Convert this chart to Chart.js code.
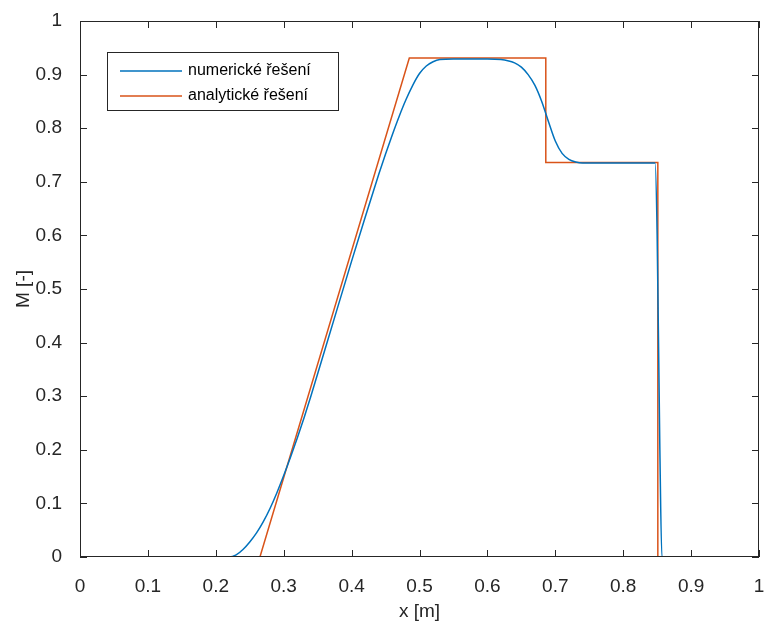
<!DOCTYPE html>
<html>
<head>
<meta charset="utf-8">
<script src="https://cdn.jsdelivr.net/npm/chart.js@4.4.1/dist/chart.umd.min.js"></script>
<style>
  html, body { margin: 0; padding: 0; background: #fff; }
  #wrap { width: 769px; height: 626px; }
</style>
</head>
<body>
<div id="wrap"><canvas id="graf"></canvas></div>
<script>
// numerické řešení
const xNum = [0, 0.1, 0.22, 0.23, 0.24, 0.25, 0.26, 0.27, 0.28, 0.29, 0.30, 0.31, 0.32, 0.33, 0.34,
  0.36, 0.38, 0.40, 0.42, 0.44, 0.45, 0.46, 0.47, 0.48, 0.49, 0.50, 0.51, 0.52, 0.53, 0.55,
  0.60, 0.62, 0.63, 0.64, 0.65, 0.66, 0.67, 0.68, 0.69, 0.70, 0.71, 0.72, 0.73, 0.74, 0.80,
  0.847, 0.850, 0.854, 0.857, 0.9, 1];
const yNum = [0, 0, 0, 0.004, 0.014, 0.028, 0.045, 0.066, 0.091, 0.12, 0.152, 0.186, 0.222, 0.260, 0.300,
  0.384, 0.468, 0.552, 0.634, 0.714, 0.752, 0.788, 0.822, 0.853, 0.880, 0.902, 0.916, 0.924, 0.928, 0.929,
  0.929, 0.928, 0.926, 0.922, 0.914, 0.900, 0.880, 0.850, 0.812, 0.776, 0.753, 0.742, 0.737, 0.735, 0.735,
  0.735, 0.6, 0.2, 0, 0, 0];

// analytické řešení
const xAna = [0, 0.265, 0.485, 0.686, 0.686, 0.851, 0.851, 1];
const yAna = [0, 0, 0.931, 0.931, 0.736, 0.736, 0, 0];

const xTicks = ['0', '0.1', '0.2', '0.3', '0.4', '0.5', '0.6', '0.7', '0.8', '0.9', '1'];
const yTicks = ['0', '0.1', '0.2', '0.3', '0.4', '0.5', '0.6', '0.7', '0.8', '0.9', '1'];

const barvaOs = '#262626';
const pismo = 'Liberation Sans, Arial, sans-serif';

// ramecek a ticky dovnitr jako v MATLABu, legenda uvnitr grafu
const ramecek = {
  id: 'ramecek',
  afterDraw(chart) {
    const { ctx, chartArea: a, scales } = chart;
    ctx.save();
    ctx.strokeStyle = barvaOs;
    ctx.lineWidth = 1;
    ctx.strokeRect(a.left + 0.5, a.top + 0.5, a.right - a.left - 1, a.bottom - a.top - 1);
    const len = 7;
    ctx.beginPath();
    scales.x.ticks.forEach(t => {
      const px = Math.round(scales.x.getPixelForValue(t.value)) + 0.5;
      ctx.moveTo(px, a.bottom); ctx.lineTo(px, a.bottom - len);
      ctx.moveTo(px, a.top); ctx.lineTo(px, a.top + len);
    });
    scales.y.ticks.forEach(t => {
      const py = Math.round(scales.y.getPixelForValue(t.value)) + 0.5;
      ctx.moveTo(a.left, py); ctx.lineTo(a.left + len, py);
      ctx.moveTo(a.right, py); ctx.lineTo(a.right - len, py);
    });
    ctx.stroke();

    // legenda
    const lx = a.left + 27, ly = a.top + 31, lw = 231, lh = 58;
    ctx.fillStyle = '#fff';
    ctx.fillRect(lx, ly, lw, lh);
    ctx.strokeStyle = barvaOs;
    ctx.strokeRect(lx + 0.5, ly + 0.5, lw, lh);
    ctx.font = '16px ' + pismo;
    ctx.textBaseline = 'middle';
    chart.data.datasets.forEach((ds, i) => {
      const y = ly + 19 + i * 25;
      ctx.strokeStyle = ds.borderColor;
      ctx.lineWidth = 1.5;
      ctx.beginPath();
      ctx.moveTo(lx + 13, y); ctx.lineTo(lx + 75, y);
      ctx.stroke();
      ctx.fillStyle = '#000';
      ctx.fillText(ds.label, lx + 81, y);
    });
    ctx.restore();
  }
};

new Chart(document.getElementById('graf'), {
  type: 'line',
  data: {
    datasets: [
      {
        label: 'numerické řešení',
        data: xNum.map((x, i) => ({ x, y: yNum[i] })),
        borderColor: '#0072BD',
        borderWidth: 1.5,
        pointRadius: 0,
        cubicInterpolationMode: 'monotone'
      },
      {
        label: 'analytické řešení',
        data: xAna.map((x, i) => ({ x, y: yAna[i] })),
        borderColor: '#D95319',
        borderWidth: 1.5,
        pointRadius: 0,
        tension: 0
      }
    ]
  },
  options: {
    responsive: true,
    maintainAspectRatio: false,
    animation: false,
    layout: { padding: { left: 12, right: 10, top: 21, bottom: 3 } },
    plugins: {
      legend: { display: false },
      tooltip: { enabled: false }
    },
    scales: {
      x: {
        type: 'linear',
        min: 0, max: 1,
        grid: { display: false },
        border: { display: false },
        ticks: {
          stepSize: 0.1,
          padding: 10,
          color: barvaOs,
          font: { family: pismo, size: 19 },
          maxRotation: 0,
          callback: (v, i) => xTicks[i]
        },
        title: {
          display: true,
          text: 'x [m]',
          color: barvaOs,
          font: { family: pismo, size: 19 },
          padding: { top: 4, bottom: 0 }
        },
        afterFit: s => {
          s.height = 66;
          s.paddingLeft = 0;
          s.paddingRight = 0;
        }
      },
      y: {
        type: 'linear',
        min: 0, max: 1,
        grid: { display: false },
        border: { display: false },
        ticks: {
          stepSize: 0.1,
          padding: 10,
          color: barvaOs,
          font: { family: pismo, size: 19 },
          callback: (v, i) => yTicks[i]
        },
        title: {
          display: true,
          text: 'M [-]',
          color: barvaOs,
          font: { family: pismo, size: 19 },
          padding: { top: 0, bottom: 4 }
        },
        afterFit: s => {
          s.width = 68;
          s.paddingTop = 0;
          s.paddingBottom = 0;
        }
      }
    }
  },
  plugins: [ramecek]
});
</script>
</body>
</html>
